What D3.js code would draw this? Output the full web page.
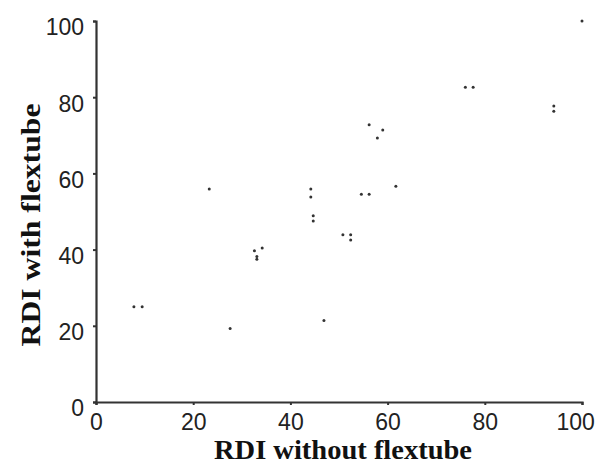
<!DOCTYPE html>
<html>
<head>
<meta charset="utf-8">
<script src="https://cdn.jsdelivr.net/npm/d3@7"></script>
<style>
  body { margin: 0; background: #fff; }
  svg { display: block; }
</style>
</head>
<body>
<div id="chart"></div>
<script>
// RDI values: without flextube (x) vs with flextube (y)
var rdiWithout = [100, 76.0, 77.6, 94.2, 94.2, 56.2, 59.0, 57.9, 23.3, 44.2, 44.2,
                  54.6, 56.2, 61.7, 44.7, 44.7, 50.8, 52.4, 52.4, 32.6, 34.2,
                  33.1, 33.1, 27.6, 46.9, 7.8, 9.5];
var rdiWith    = [100, 82.6, 82.6, 77.7, 76.3, 72.8, 71.4, 69.3, 55.9, 55.9, 53.8,
                  54.5, 54.5, 56.6, 48.9, 47.5, 43.9, 43.9, 42.5, 39.7, 40.4,
                  38.2, 37.5, 19.3, 21.4, 25.0, 25.0];
var xTicks = [0, 20, 40, 60, 80, 100];
var yTicks = [0, 20, 40, 60, 80, 100];

var width = 597, height = 466;
var x = d3.scaleLinear().domain([0, 100]).range([96, 582]);
var y = d3.scaleLinear().domain([0, 100]).range([402, 21]);

var svg = d3.select("#chart").append("svg")
    .attr("width", width)
    .attr("height", height);

// axes
var xAxis = svg.append("g")
    .attr("transform", "translate(0," + y(0) + ")")
    .call(d3.axisBottom(x).tickValues(xTicks).tickSize(3).tickPadding(9).tickFormat(d3.format("d")));

var yAxis = svg.append("g")
    .attr("transform", "translate(" + x(0) + ",0)")
    .call(d3.axisLeft(y).tickValues(yTicks).tickSize(3).tickPadding(9).tickFormat(d3.format("d")));

[xAxis, yAxis].forEach(function (g) {
    g.select(".domain").attr("stroke", "#333").attr("stroke-width", 2.2);
    g.selectAll(".tick line").attr("stroke", "#333").attr("stroke-width", 2);
    g.selectAll(".tick text")
        .attr("fill", "#222")
        .style("font-family", "'Liberation Sans', Arial, sans-serif")
        .style("font-size", "23px");
});
yAxis.selectAll(".tick text").attr("dy", "0.6em");
// keep the last x label inside the window
xAxis.selectAll(".tick text").filter(function (d) { return d === 100; }).attr("dx", "-0.3em");

// points
svg.append("g")
    .selectAll("circle")
    .data(rdiWithout)
    .join("circle")
    .attr("cx", function (d) { return x(d); })
    .attr("cy", function (d, i) { return y(rdiWith[i]); })
    .attr("r", 1.5)
    .attr("fill", "#333");

// axis titles
svg.append("text")
    .attr("x", 343)
    .attr("y", 459)
    .attr("text-anchor", "middle")
    .attr("textLength", 258)
    .attr("lengthAdjust", "spacingAndGlyphs")
    .style("font-family", "'Liberation Serif', 'Times New Roman', serif")
    .style("font-size", "28px")
    .style("font-weight", "bold")
    .attr("fill", "#111")
    .text("RDI without flextube");

svg.append("text")
    .attr("transform", "translate(40,225) rotate(-90)")
    .attr("text-anchor", "middle")
    .attr("textLength", 243)
    .attr("lengthAdjust", "spacingAndGlyphs")
    .style("font-family", "'Liberation Serif', 'Times New Roman', serif")
    .style("font-size", "28px")
    .style("font-weight", "bold")
    .attr("fill", "#111")
    .text("RDI with flextube");
</script>
</body>
</html>
